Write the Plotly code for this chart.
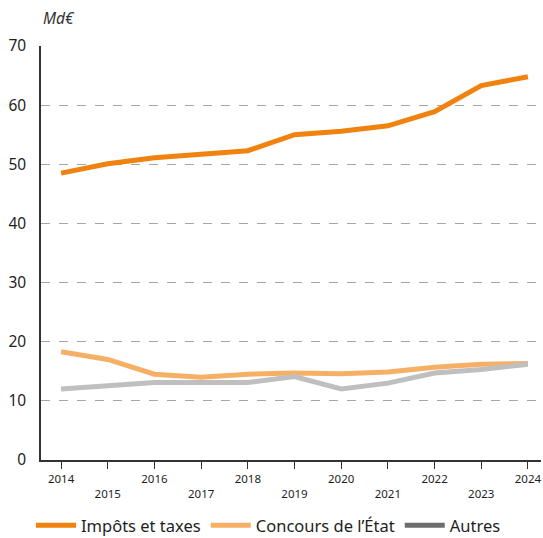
import plotly.graph_objects as go

years = list(range(2014, 2025))
impots = [48.5, 50.1, 51.1, 51.7, 52.3, 55.0, 55.6, 56.5, 58.9, 63.3, 64.8]
concours = [18.3, 17.0, 14.5, 14.0, 14.5, 14.7, 14.6, 14.9, 15.7, 16.2, 16.3]
autres = [12.0, 12.6, 13.1, 13.1, 13.1, 14.1, 12.0, 13.0, 14.7, 15.3, 16.2]
tick_labels = [str(y) if i % 2 == 0 else "<br>" + str(y) for i, y in enumerate(years)]

font = "Noto Sans"
fig = go.Figure()
fig.add_trace(go.Scatter(x=years, y=impots, mode="lines", name="Impôts et taxes",
                         line=dict(color="#f0820f", width=5)))
fig.add_trace(go.Scatter(x=years, y=concours, mode="lines", name="Concours de l’État",
                         line=dict(color="#f6b066", width=5)))
fig.add_trace(go.Scatter(x=years, y=autres, mode="lines", name="Autres",
                         line=dict(color="#bfbfbf", width=5), showlegend=False))
# legend swatch for "Autres" is darker than its line
fig.add_trace(go.Scatter(x=[None], y=[None], mode="lines", name="Autres",
                         line=dict(color="#6e6e6e", width=5)))

# figure a bit taller than the window so the legend sits low enough; page margins removed below
fig.update_layout(
    width=543, height=548,
    margin=dict(l=41, r=2, t=46, b=88),
    plot_bgcolor="white", paper_bgcolor="white",
    font=dict(family=font, color="#1e1e1e"),
    legend=dict(orientation="h", x=-0.02, xanchor="left", y=-0.158, yanchor="middle",
                font=dict(size=16.5, color="#1e1e1e"), itemwidth=40, traceorder="normal"),
    annotations=[dict(text="<i>Md€</i>", x=0, xref="paper", y=1.068, yref="paper",
                      xanchor="left", yanchor="middle", showarrow=False,
                      font=dict(size=15.5, color="#333333"))],
)
fig.update_xaxes(range=[2013.57, 2024.28], tickmode="array", tickvals=years, ticktext=tick_labels,
                 showgrid=False, showline=True, linecolor="#333333", linewidth=1.5,
                 ticks="outside", ticklen=7, tickcolor="#333333", automargin=False,
                 tickfont=dict(size=11.5, color="#1e1e1e"))
fig.update_yaxes(range=[0, 70], dtick=10, showgrid=True, gridcolor="#a6a6a6", griddash="dash",
                 zeroline=False, showline=True, linecolor="#333333", linewidth=1.5,
                 ticks="", ticklabelstandoff=10, automargin=False,
                 tickfont=dict(size=15.5, color="#1e1e1e"))

fig.write_html("out.html", config={"displayModeBar": False},
               post_script="document.body.style.margin='0';document.body.style.overflow='hidden';")
